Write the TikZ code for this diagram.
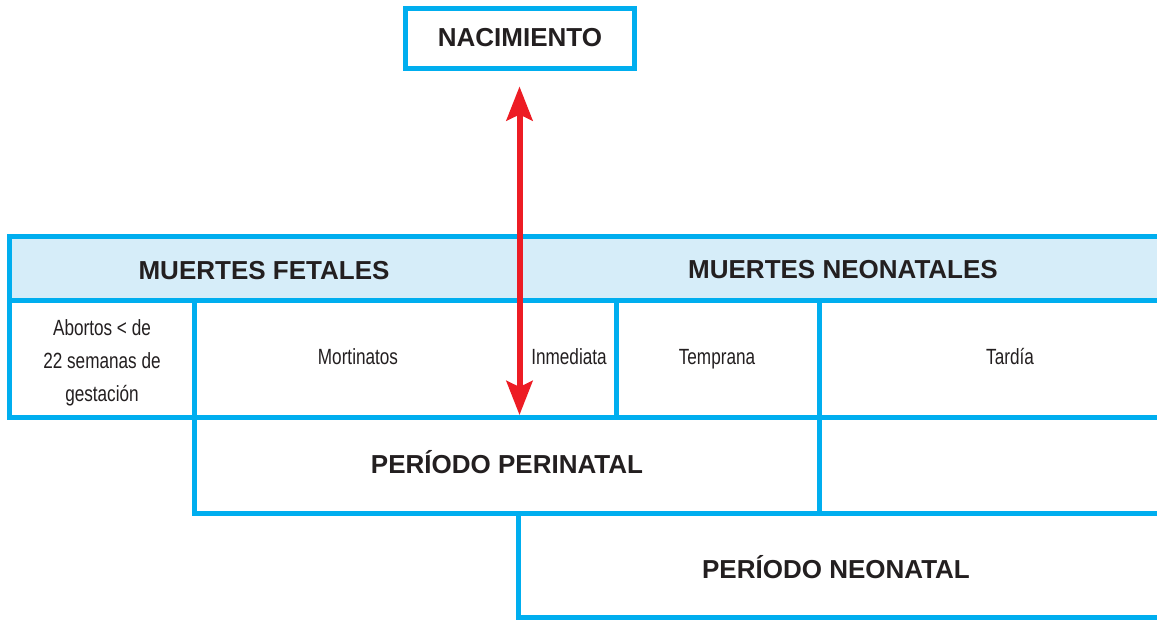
\documentclass[tikz,border=0pt]{standalone}
\usepackage{fontspec}
\setmainfont{Liberation Sans}
\newfontfamily\narrowfont[FakeStretch=0.78]{Liberation Sans}
\usetikzlibrary{arrows.meta}
\definecolor{cyanline}{HTML}{00AEEF}
\definecolor{bandfill}{HTML}{D6EDF9}
\definecolor{arrowred}{HTML}{ED1C24}
\definecolor{inkcol}{HTML}{231F20}
\tikzset{
  gridline/.style={draw=cyanline, line width=5pt, line cap=rect},
  headtext/.style={font=\fontsize{26}{30}\selectfont\bfseries, text=inkcol, inner sep=0pt, anchor=base},
  celltext/.style={font=\narrowfont\fontsize{22}{33}\selectfont, text=inkcol, align=center, inner sep=0pt, anchor=base},
  birthbox/.style={draw=cyanline, line width=5pt, minimum width=229pt, minimum height=60pt, inner sep=0pt},
  redarrow/.style={draw=arrowred, line width=6pt,
    {Stealth[length=34pt,width=26pt,inset=6pt]}-{Stealth[length=34pt,width=26pt,inset=6pt]}}
}
\begin{document}
\begin{tikzpicture}[x=1pt,y=-1pt]
\useasboundingbox[fill=white] (0,0) rectangle (1157,620);
% header band
\fill[bandfill] (9,237) rectangle (1160,301);
% grid lines
\draw[gridline] (1165,237) -- (9,237) -- (9,417) -- (1165,417);
\draw[gridline] (9,301) -- (1165,301);
\draw[gridline] (194,301) -- (194,513) -- (1165,513);
\draw[gridline] (616,301) -- (616,417);
\draw[gridline] (819,301) -- (819,513);
\draw[gridline] (518,513) -- (518,617) -- (1165,617);
% birth box
\node[birthbox] (nac) at (519.5,39) {};
\node[headtext] (nactext) at (520,47) {NACIMIENTO};
% headings
\node[headtext] (fet) at (264,280) {MUERTES FETALES};
\node[headtext] (neo) at (843,279) {MUERTES NEONATALES};
% cells
\node[celltext] (abortos) at (102,401) {Abortos < de\\22 semanas de\\gestación};
\node[celltext] (mort) at (358,364) {Mortinatos};
\node[celltext] (inmed) at (569,364) {Inmediata};
\node[celltext] (tempr) at (717,364) {Temprana};
\node[celltext] (tard) at (1010,364) {Tardía};
% periods
\node[headtext] (perin) at (507,473) {PERÍODO PERINATAL};
\node[headtext] (neonat) at (836,578) {PERÍODO NEONATAL};
% arrow
\coordinate (birthtip) at (519.5,415);
\draw[redarrow] ([yshift=-15pt]nac.south) -- (birthtip);
\end{tikzpicture}
\end{document}
